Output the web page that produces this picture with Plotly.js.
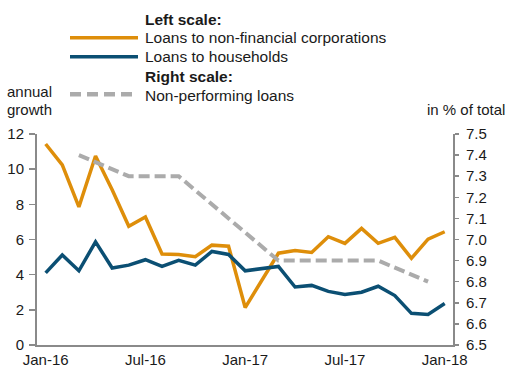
<!DOCTYPE html>
<html>
<head>
<meta charset="utf-8">
<script src="https://cdn.plot.ly/plotly-3.0.1.min.js"></script>
<style>html,body{margin:0;padding:0;background:#fff;}#chart{width:513px;height:372px;}</style>
</head>
<body>
<div id="chart"></div>
<script>
// ---- data ----
const months = ["Jan-16","Feb-16","Mar-16","Apr-16","May-16","Jun-16","Jul-16","Aug-16","Sep-16","Oct-16","Nov-16","Dec-16",
                "Jan-17","Feb-17","Mar-17","Apr-17","May-17","Jun-17","Jul-17","Aug-17","Sep-17","Oct-17","Nov-17","Dec-17","Jan-18"];
const corporations = [11.43,10.24,7.85,10.75,8.83,6.75,7.28,5.18,5.15,5.02,5.68,5.62,
                      2.13,3.70,5.22,5.37,5.26,6.16,5.78,6.63,5.78,6.12,4.93,6.02,6.44];
const households = [4.10,5.12,4.22,5.87,4.38,4.54,4.85,4.47,4.81,4.54,5.32,5.15,
                    4.22,4.35,4.47,3.30,3.39,3.05,2.87,3.00,3.34,2.81,1.80,1.74,2.36];
const nplQuarters = ["Mar-16","Jun-16","Sep-16","Dec-16","Mar-17","Jun-17","Sep-17","Dec-17"];
const nplValues = [7.4,7.3,7.3,7.1,6.9,6.9,6.9,6.8];
const xTickLabels = ["Jan-16","Jul-16","Jan-17","Jul-17","Jan-18"];
const leftTicks = [0,2,4,6,8,10,12];
const rightTicks = [6.5,6.6,6.7,6.8,6.9,7.0,7.1,7.2,7.3,7.4,7.5];
const names = {corp:"Loans to non-financial corporations", hh:"Loans to households", npl:"Non-performing loans"};
const groupTitles = {left:"Left scale:", right:"Right scale:"};
const yTitleLeft = ["annual","growth"];
const yTitleRight = "in % of total";

// ---- style ----
const W = 513, H = 372;
const M = {l:37, r:60, t:134, b:27};
const PW = W - M.l - M.r, PH = H - M.t - M.b;
const FONT = "Liberation Sans, Arial, Helvetica, sans-serif";
const TXT = "#1a1a1a";
const C_ORANGE = "#DE8E0A", C_BLUE = "#0B4F73", C_GRAY = "#ABABAB", C_AXIS = "#8A8A8A";
const px = x => (x - M.l) / PW;
const py = y => (H - M.b - y) / PH;

const traces = [
  {x: months, y: corporations, type:"scatter", mode:"lines", name:names.corp,
   line:{color:C_ORANGE, width:3.5}, yaxis:"y", showlegend:false},
  {x: months, y: households, type:"scatter", mode:"lines", name:names.hh,
   line:{color:C_BLUE, width:3.5}, yaxis:"y", showlegend:false},
  {x: nplQuarters, y: nplValues, type:"scatter", mode:"lines", name:names.npl,
   line:{color:C_GRAY, width:4, dash:"11px,5px"}, yaxis:"y2", showlegend:false}
];

function ann(text, x, y, opts) {
  return Object.assign({text:text, xref:"paper", yref:"paper", x:px(x), y:py(y),
    xanchor:"left", yanchor:"middle", showarrow:false,
    font:{family:FONT, size:15.5, color:TXT}}, opts || {});
}
function sampleLine(y, color, width, dash) {
  return {type:"line", xref:"paper", yref:"paper", x0:px(70), x1:px(138), y0:py(y), y1:py(y),
    line:{color:color, width:width, dash:dash || "solid"}};
}

const layout = {
  width:W, height:H, margin:M,
  paper_bgcolor:"#fff", plot_bgcolor:"#fff",
  font:{family:FONT, size:15, color:TXT},
  showlegend:false,
  xaxis:{type:"category", categoryorder:"array", categoryarray:months,
    range:[-0.52, 24.5], tickvals:xTickLabels, ticktext:xTickLabels,
    showline:true, linecolor:C_AXIS, linewidth:2, ticks:"", showgrid:false, zeroline:false,
    tickfont:{size:15, color:TXT}, fixedrange:true},
  yaxis:{range:[0,12], tickvals:leftTicks, showline:true, linecolor:C_AXIS, linewidth:2,
    ticks:"outside", ticklen:6, tickcolor:C_AXIS, tickwidth:1.5, showgrid:false, zeroline:false,
    tickfont:{size:15, color:TXT}, ticklabelstandoff:2},
  yaxis2:{range:[6.5,7.5], tickvals:rightTicks, tickformat:".1f", overlaying:"y", side:"right",
    showline:true, linecolor:C_AXIS, linewidth:2, ticks:"outside", ticklen:4, tickcolor:C_AXIS, tickwidth:1.5,
    showgrid:false, zeroline:false, tickfont:{size:15, color:TXT}, ticklabelstandoff:4},
  shapes:[
    sampleLine(37.7, C_ORANGE, 3.5),
    sampleLine(56.7, C_BLUE, 3.5),
    sampleLine(94.3, C_GRAY, 4.5, "11px,6px")
  ],
  annotations:[
    ann("<b>" + groupTitles.left + "</b>", 143, 19),
    ann(names.corp, 143, 38),
    ann(names.hh, 143, 57),
    ann("<b>" + groupTitles.right + "</b>", 143, 76),
    ann(names.npl, 143, 95),
    ann(yTitleLeft[0], 5, 92, {font:{family:FONT, size:15, color:TXT}}),
    ann(yTitleLeft[1], 5, 110, {font:{family:FONT, size:15, color:TXT}}),
    ann(yTitleRight, 425, 110, {font:{family:FONT, size:15, color:TXT}})
  ]
};

Plotly.newPlot("chart", traces, layout, {displayModeBar:false, staticPlot:true});
</script>
</body>
</html>
